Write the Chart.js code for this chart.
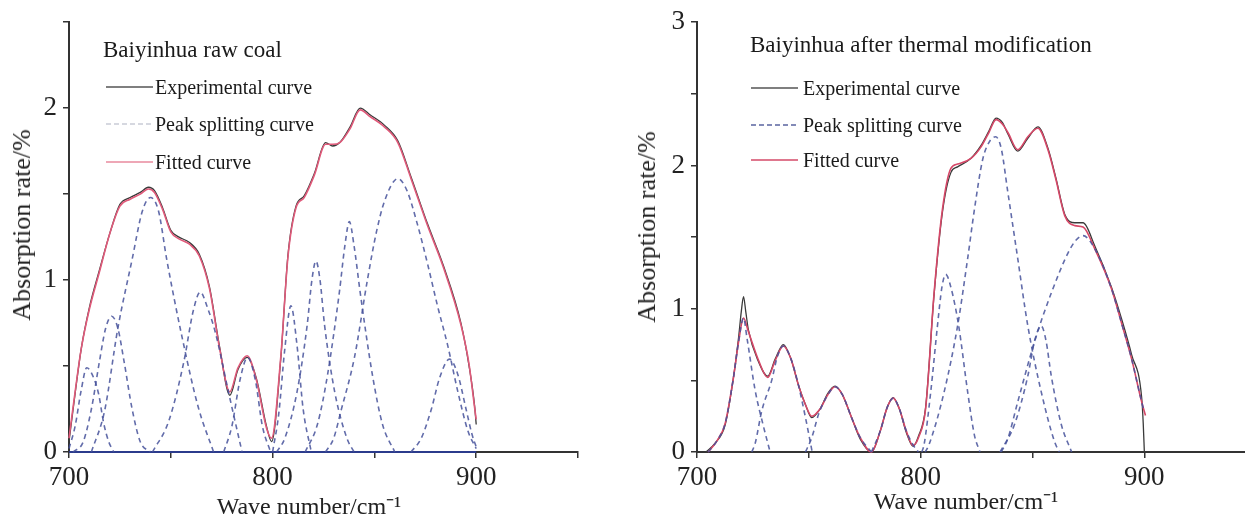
<!DOCTYPE html>
<html><head><meta charset="utf-8">
<script src="https://cdn.jsdelivr.net/npm/chart.js@4/dist/chart.umd.min.js"></script>
<style>
html,body{margin:0;padding:0;background:#fff;}
#wrap{position:relative;width:1245px;height:521px;overflow:hidden;font-family:"Liberation Serif","Times New Roman",serif;color:#1a1a1a;}
.box{position:absolute;top:0;height:521px;}
.t{position:absolute;white-space:nowrap;font-size:23px;line-height:26px;}
.it{position:absolute;white-space:nowrap;font-size:20px;line-height:22px;}
.ax{position:absolute;white-space:nowrap;font-size:24px;line-height:28px;color:#222;transform:translate(-50%,-50%);}
.ay{position:absolute;white-space:nowrap;font-size:26px;line-height:30px;color:#222;transform:translate(-50%,-50%) rotate(-90deg);}
.sw{position:absolute;}
</style></head>
<body>
<div id="wrap">
  <div class="box" style="left:0;width:620px"><canvas id="c1" width="620" height="521"></canvas></div>
  <div class="box" style="left:620px;width:625px"><canvas id="c2" width="625" height="521"></canvas></div>
</div>
<script>
// ---------- text ----------
const chartTitles = ['Baiyinhua raw coal', 'Baiyinhua after thermal modification'];
const legendLabels = ['Experimental curve', 'Peak splitting curve', 'Fitted curve'];
const xTitle = 'Wave number/cm\u207B\u00B9';
const yTitle = 'Absorption rate/%';

// ---------- left: raw coal ----------
const rawWave = [700,703,706,710,715,720,725,730,735,739,742,746,750,754,759,764,769,774,779,783,787.5,792,797,799.5,804,807.5,811.5,815.5,820.5,826,829.5,833,838,843,848,855,861.5,868,876,884,892.5,896.5,899.2,900];
const rawFit  = [0.08,0.35,0.60,0.83,1.05,1.27,1.43,1.47,1.50,1.53,1.51,1.41,1.28,1.24,1.21,1.14,0.95,0.60,0.35,0.49,0.56,0.42,0.14,0.08,0.55,1.13,1.42,1.48,1.61,1.79,1.79,1.80,1.88,1.99,1.95,1.89,1.80,1.59,1.32,1.07,0.74,0.51,0.26,0.19];
const rawExp  = [0.06,0.34,0.60,0.84,1.06,1.27,1.44,1.48,1.51,1.54,1.52,1.42,1.29,1.25,1.22,1.15,0.96,0.61,0.33,0.48,0.55,0.43,0.15,0.06,0.54,1.14,1.43,1.49,1.62,1.80,1.78,1.80,1.89,2.00,1.96,1.90,1.81,1.60,1.33,1.08,0.75,0.50,0.27,0.16];
const rawBaseWave = [700, 900];
const rawBase = [0, 0];
const rawPeak1  = [[700,0.02],[703,0.15],[706,0.36],[708.7,0.49],[711,0.46],[714.5,0.34],[717,0.17],[719.5,0.06],[722,0]];
const rawPeak2  = [[702,0],[707,0.06],[711,0.25],[715,0.53],[718,0.72],[721,0.79],[724,0.72],[727,0.53],[731,0.25],[735,0.06],[740,0]];
const rawPeak3  = [[711,0],[717.5,0.24],[724,0.72],[731,1.12],[736,1.40],[740,1.48],[744,1.40],[748,1.12],[755.5,0.67],[763.5,0.26],[771,0]];
const rawPeak4  = [[741,0],[749,0.18],[756.5,0.53],[761,0.82],[764.5,0.93],[768,0.84],[772,0.69],[778.5,0.34],[785,0]];
const rawPeak5  = [[776,0],[780,0.15],[784,0.42],[787.7,0.55],[791.5,0.42],[795,0.15],[799,0]];
const rawPeak6  = [[800,0],[803,0.22],[806,0.60],[809,0.85],[812,0.62],[815,0.25],[819,0]];
const rawPeak7  = [[802,0],[806,0.08],[812,0.35],[817,0.74],[819.3,1.0],[821.3,1.11],[823.3,1.0],[825.5,0.74],[830.5,0.35],[836.5,0.08],[840,0]];
const rawPeak8  = [[816,0],[822,0.16],[827,0.45],[832.8,0.93],[835.5,1.2],[837.7,1.34],[840,1.2],[843,0.93],[849,0.45],[854,0.16],[860,0]];
const rawPeak9  = [[826,0],[830,0.08],[833.6,0.24],[840.2,0.55],[846.7,1.01],[851,1.28],[855,1.46],[861.5,1.59],[866,1.52],[871,1.33],[876.2,1.09],[881,0.85],[886,0.62],[891,0.35],[896,0.12],[900,0.02]];
const rawPeak10 = [[868,0],[873,0.08],[878,0.25],[882,0.43],[886.9,0.54],[891,0.45],[895,0.25],[898,0.10],[900,0.03]];

// ---------- right: after thermal modification ----------
const thermFitWave = [705,709,712.6,716.3,718.6,720.8,723,727.5,731.6,735,738.6,742,745.3,748.5,751.3,755,758.5,761.7,765,769.1,773,778,782,785,787.7,790.5,793.5,796.6,799,802.2,806,809.7,813.5,816.5,822.5,827,830.5,833.7,836.5,839,843.4,847.9,852.4,856.9,860.5,864.4,868.9,872.6,877.8,885.3,889.8,894.3,898.8,900.5];
const thermFit     = [0,0.08,0.20,0.52,0.77,0.935,0.84,0.64,0.52,0.64,0.74,0.65,0.47,0.33,0.25,0.30,0.40,0.455,0.40,0.24,0.10,0.0,0.15,0.31,0.376,0.30,0.15,0.046,0.10,0.30,1.11,1.69,1.98,2.01,2.05,2.13,2.23,2.32,2.29,2.23,2.11,2.20,2.26,2.11,1.90,1.65,1.58,1.57,1.42,1.14,0.90,0.65,0.35,0.255];
const thermExpWave = [704,708,712.6,716.3,718.6,719.8,720.8,721.8,723,727.5,731.6,735,738.6,742,745.3,748.5,751.3,755,758.5,761.7,765,769.1,773,778,782,785,787.7,790.5,793.5,796.6,799,802.2,806,809.7,813.5,816.5,822.5,827,830.5,833.7,836.5,839,843.4,847.9,852.4,856.9,860.5,864.4,868.9,872.6,877.8,885.3,889.8,894.3,898.8,899.5,900];
const thermExp     = [0,0.06,0.19,0.52,0.80,0.98,1.085,0.98,0.85,0.63,0.53,0.65,0.75,0.65,0.47,0.33,0.24,0.30,0.41,0.46,0.40,0.24,0.09,0.0,0.15,0.31,0.38,0.30,0.14,0.04,0.11,0.31,1.10,1.67,1.95,1.99,2.05,2.14,2.24,2.33,2.30,2.22,2.10,2.19,2.27,2.12,1.91,1.66,1.60,1.60,1.44,1.15,0.93,0.68,0.38,0.2,0];
const thermPeak1 = [[705,0],[709,0.08],[712.6,0.20],[716.3,0.52],[718.6,0.77],[720.8,0.935],[722.3,0.80],[726,0.43],[729.7,0.18],[732.7,0]];
const thermPeak2 = [[724.5,0],[726,0.06],[729,0.29],[733.4,0.50],[736,0.67],[738.6,0.74],[742,0.65],[745.3,0.47],[748.5,0.24],[751.5,0]];
const thermPeak3 = [[748.5,0],[751.3,0.10],[754.5,0.27],[758.5,0.40],[761.7,0.455],[765,0.40],[769.1,0.24],[773,0.10],[778,0]];
const thermPeak4 = [[778,0],[782,0.15],[785,0.31],[787.7,0.376],[790.5,0.30],[793.5,0.15],[796.6,0.05],[799,0]];
const thermPeak5 = [[800.5,0],[801.5,0.05],[804.5,0.42],[807.5,0.88],[809.5,1.15],[811.2,1.24],[813.5,1.15],[817,0.88],[821,0.42],[824,0.12],[826.5,0]];
const thermPeak6 = [[802,0],[803.7,0.05],[810.5,0.42],[816.5,0.88],[821,1.35],[824,1.69],[827.7,2.04],[830.5,2.16],[833.5,2.20],[836,2.12],[839,1.81],[843.4,1.35],[847.9,0.88],[853.9,0.42],[859.9,0.07],[862,0]];
const thermPeak7 = [[835.5,0],[841.9,0.19],[847.9,0.53],[851,0.78],[853.9,0.88],[856,0.78],[858.4,0.53],[862.9,0.19],[867.5,0]];
const thermPeak8 = [[836,0],[838.9,0.09],[843.4,0.35],[850.9,0.77],[858.4,1.11],[865.9,1.39],[869.5,1.48],[872.6,1.51],[877.8,1.42],[885.3,1.14],[889.8,0.90],[894.3,0.65],[898.8,0.35],[900,0.28]];

// ---------- helpers ----------
const FONT = '"Liberation Serif","Times New Roman",serif';
const zip = (xs, ys) => xs.map((x, i) => ({x: x, y: ys[i]}));
const pairs = arr => arr.map(p => ({x: p[0], y: p[1]}));

function lineDs(data, color, width, dash, order) {
  return {data: data, borderColor: color, borderWidth: width, borderDash: dash || [],
    pointRadius: 0, fill: false, cubicInterpolationMode: 'monotone', order: order, clip: 4};
}

function makeChart(id, datasets, cfg) {
  return new Chart(document.getElementById(id), {
    type: 'line',
    data: {datasets: datasets},
    options: {
      responsive: false, animation: false, devicePixelRatio: 1,
      layout: {padding: {left: 0, right: cfg.padRight, top: cfg.padTop, bottom: 0}},
      plugins: {legend: {display: false}, tooltip: {enabled: false}},
      scales: {
        x: {
          type: 'linear', min: 700, max: cfg.xMax,
          afterBuildTicks: s => { s.ticks = s.ticks.filter(t => Math.abs(t.value % 50) < 1e-6); },
          afterFit: s => { s.height = cfg.xH; },
          ticks: {stepSize: 50, autoSkip: false, maxRotation: 0, padding: 4,
            callback: v => (v % 100 === 0 ? String(v) : ''),
            font: {family: FONT, size: 27}, color: '#222'},
          grid: {drawOnChartArea: false, drawTicks: true, tickLength: 6, color: '#333', lineWidth: 1.5},
          border: {display: true, color: '#333', width: 2},
          title: {display: false}
        },
        y: {
          type: 'linear', min: 0, max: cfg.yMax,
          afterFit: s => { s.width = cfg.yW; },
          ticks: {stepSize: 0.5, autoSkip: false, padding: 6,
            callback: v => (Math.abs(v - Math.round(v)) < 1e-6 ? String(Math.round(v)) : ''),
            font: {family: FONT, size: 27}, color: '#222'},
          grid: {drawOnChartArea: false, drawTicks: true, tickLength: 6, color: '#333', lineWidth: 1.5},
          border: {display: true, color: '#333', width: 2},
          title: {display: false}
        }
      }
    }
  });
}

const DASH = 'rgba(70,82,155,0.85)';

const leftSets = [
  lineDs(zip(rawBaseWave, rawBase), '#2b3b8c', 1.8, null, 5),
  lineDs(zip(rawWave, rawExp), '#3a3a3a', 1.3, null, 4),
  lineDs(zip(rawWave, rawFit), '#e05a7a', 1.6, null, 3)
].concat([rawPeak1, rawPeak2, rawPeak3, rawPeak4, rawPeak5, rawPeak6, rawPeak7, rawPeak8, rawPeak9, rawPeak10]
  .map(p => lineDs(pairs(p), DASH, 1.6, [5, 4], 1)));

const rightSets = [
  lineDs(zip(thermExpWave, thermExp), '#3a3a3a', 1.3, null, 4),
  lineDs(zip(thermFitWave, thermFit), '#d64868', 1.6, null, 3)
].concat([thermPeak1, thermPeak2, thermPeak3, thermPeak4, thermPeak5, thermPeak6, thermPeak7, thermPeak8]
  .map(p => lineDs(pairs(p), DASH, 1.6, [5, 4], 1)));

makeChart('c1', leftSets, {xMax: 950, yMax: 2.5, padRight: 42, padTop: 22, xH: 69, yW: 69});
makeChart('c2', rightSets, {xMax: 945, yMax: 3, padRight: 0, padTop: 21, xH: 69, yW: 77});

// ---------- HTML titles, axis titles and legends ----------
const wrap = document.getElementById('wrap');
function addText(cls, txt, left, top) {
  const d = document.createElement('div');
  d.className = cls; d.textContent = txt;
  d.style.left = left + 'px'; d.style.top = top + 'px';
  wrap.appendChild(d);
  return d;
}
function addSwatch(left, cy, color, dash) {
  const ns = 'http://www.w3.org/2000/svg';
  const s = document.createElementNS(ns, 'svg');
  s.setAttribute('width', '47'); s.setAttribute('height', '6');
  s.setAttribute('class', 'sw');
  s.style.left = left + 'px'; s.style.top = (cy - 3) + 'px';
  const l = document.createElementNS(ns, 'line');
  l.setAttribute('x1', '0'); l.setAttribute('y1', '3'); l.setAttribute('x2', '47'); l.setAttribute('y2', '3');
  l.setAttribute('stroke', color); l.setAttribute('stroke-width', '1.5');
  if (dash) l.setAttribute('stroke-dasharray', dash);
  s.appendChild(l);
  wrap.appendChild(s);
}
const legends = [
  {tx: 103, ty: 50, lx: 106, txl: 155, rows: [87, 124, 162], colors: ['#555', '#c9cbd6', '#e88a9e'], axX: [309, 506], axY: [22, 225]},
  {tx: 750, ty: 45, lx: 751, txl: 803, rows: [88, 125, 160], colors: ['#555', '#5a64a0', '#d44a68'], axX: [966, 501], axY: [647, 227]}
];
legends.forEach((g, k) => {
  addText('t', chartTitles[k], g.tx, g.ty - 13);
  legendLabels.forEach((lab, i) => {
    addSwatch(g.lx, g.rows[i], g.colors[i], i === 1 ? '5 3' : null);
    addText('it', lab, g.txl, g.rows[i] - 11);
  });
  addText('ax', xTitle, g.axX[0], g.axX[1]);
  addText('ay', yTitle, g.axY[0], g.axY[1]);
});
</script>
</body></html>
